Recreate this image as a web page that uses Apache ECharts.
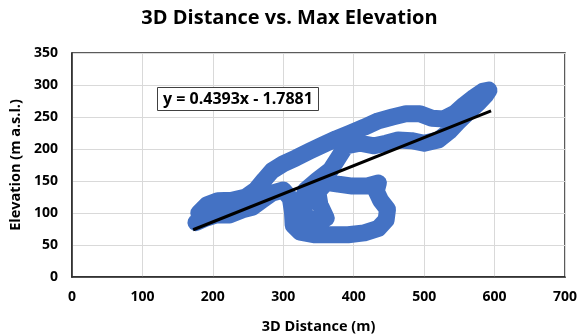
<!DOCTYPE html>
<html>
<head>
<meta charset="utf-8">
<script src="https://cdn.jsdelivr.net/npm/echarts@6/dist/echarts.min.js"></script>
<style>
  html, body { margin: 0; padding: 0; background: #fff; }
  #chart { width: 579px; height: 335px; }
</style>
</head>
<body>
<div id="chart"></div>
<script>
// track points, in drawing order
const distance = [176, 188, 205, 224, 242, 256, 270, 284, 300, 310, 313, 314, 324, 345, 369, 392, 415, 435, 446, 448, 438, 432, 435, 418, 398, 378, 361, 349, 352, 361, 344, 331, 327, 332, 349, 367, 378, 389, 409, 429, 446, 463, 482, 500, 520, 536, 548, 563, 577, 588, 592, 583, 571, 557, 544, 528, 511, 494, 474, 455, 435, 415, 395, 375, 355, 338, 318, 300, 284, 273, 261, 247, 227, 207, 192, 180]
const elevation = [85, 91, 97, 97, 105, 109, 120, 131, 136, 123, 102, 81, 70, 66, 66, 66, 69, 76, 89, 106, 120, 134, 147, 142, 142, 145, 148, 133, 113, 92, 83, 97, 117, 136, 152, 167, 186, 205, 209, 205, 209, 214, 213, 209, 214, 228, 242, 258, 272, 285, 292, 290, 281, 269, 256, 247, 248, 255, 255, 250, 244, 234, 225, 216, 206, 197, 186, 177, 166, 152, 136, 125, 120, 119, 113, 100]

// trendline end points (y = 0.4393x - 1.7881)
const trendX = [172, 595]
const trendY = [73.8, 259.6]

const xTicks = { min: 0, max: 700, step: 100 }
const yTicks = { min: 0, max: 350, step: 50 }

const font = '"Open Sans", sans-serif'
const chart = echarts.init(document.getElementById('chart'), null, { renderer: 'canvas' })

const option = {
  backgroundColor: '#fff',
  animation: false,
  title: [
    {
      text: '3D Distance vs. Max Elevation',
      left: 'center',
      top: 3,
      textStyle: { fontFamily: font, fontWeight: 'bold', fontSize: 20, color: '#000' },
    },
    {
      text: 'y = 0.4393x - 1.7881',
      left: 157,
      top: 87,
      padding: [4, 6],
      backgroundColor: '#fff',
      borderColor: '#404040',
      borderWidth: 1,
      textStyle: { fontFamily: font, fontWeight: 'bold', fontSize: 16, color: '#000' },
    },
  ],
  grid: {
    left: 72,
    right: 14,
    top: 53,
    bottom: 58,
    outerBoundsMode: 'none',
    show: true,
    borderColor: '#262626',
    borderWidth: 1.5,
    backgroundColor: 'transparent',
  },
  xAxis: {
    type: 'value',
    min: xTicks.min,
    max: xTicks.max,
    interval: xTicks.step,
    name: '3D Distance (m)',
    nameLocation: 'middle',
    nameGap: 42,
    nameTextStyle: { fontFamily: font, fontWeight: 'bold', fontSize: 14.5, color: '#000' },
    axisLine: { lineStyle: { color: '#262626', width: 1.5 } },
    axisTick: { show: false },
    axisLabel: { fontFamily: font, fontWeight: 'bold', fontSize: 14, color: '#000', margin: 13 },
    splitLine: { lineStyle: { color: '#d9d9d9', width: 1 } },
  },
  yAxis: {
    type: 'value',
    min: yTicks.min,
    max: yTicks.max,
    interval: yTicks.step,
    name: 'Elevation (m a.s.l.)',
    nameLocation: 'middle',
    nameGap: 47,
    nameTextStyle: { fontFamily: font, fontWeight: 'bold', fontSize: 14.5, color: '#000' },
    axisLine: { show: true, lineStyle: { color: '#262626', width: 1.5 } },
    axisTick: { show: false },
    axisLabel: { fontFamily: font, fontWeight: 'bold', fontSize: 14, color: '#000', margin: 14 },
    splitLine: { lineStyle: { color: '#d9d9d9', width: 1 } },
  },
  series: [
    {
      name: 'Track',
      type: 'line',
      data: distance.map((d, i) => [d, elevation[i]]),
      symbol: 'none',
      smooth: false,
      lineStyle: { color: '#4472c4', width: 17, cap: 'round', join: 'round' },
      z: 2,
    },
    {
      name: 'Trend',
      type: 'line',
      data: trendX.map((d, i) => [d, trendY[i]]),
      symbol: 'none',
      lineStyle: { color: '#000', width: 3 },
      z: 3,
    },
  ],
}

chart.setOption(option)
</script>
</body>
</html>
